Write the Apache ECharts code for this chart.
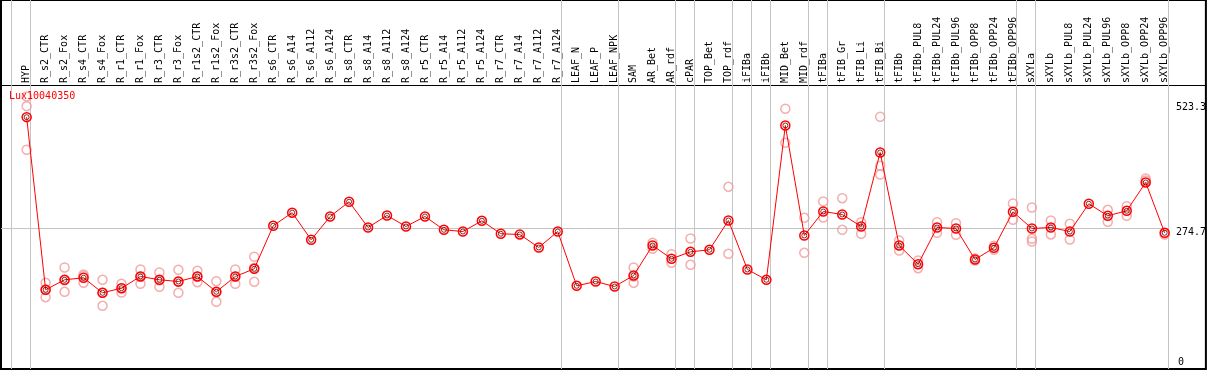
<!DOCTYPE html>
<html>
<head>
<meta charset="utf-8">
<script src="https://cdn.jsdelivr.net/npm/echarts@6/dist/echarts.min.js"></script>
<style>
html,body{margin:0;padding:0;background:#fff;}
#chart{width:1209px;height:370px;}
</style>
</head>
<body>
<div id="chart"></div>
<script>
const seriesName = 'Lux10040350';
const categories = ['HYP','R_s2_CTR','R_s2_Fox','R_s4_CTR','R_s4_Fox','R_r1_CTR','R_r1_Fox','R_r3_CTR','R_r3_Fox','R_r1s2_CTR','R_r1s2_Fox','R_r3s2_CTR','R_r3s2_Fox','R_s6_CTR','R_s6_A14','R_s6_A112','R_s6_A124','R_s8_CTR','R_s8_A14','R_s8_A112','R_s8_A124','R_r5_CTR','R_r5_A14','R_r5_A112','R_r5_A124','R_r7_CTR','R_r7_A14','R_r7_A112','R_r7_A124','LEAF_N','LEAF_P','LEAF_NPK','SAM','AR_Bet','AR_rdf','cPAR','TOP_Bet','TOP_rdf','iFIBa','iFIBb','MID_Bet','MID_rdf','tFIBa','tFIB_Gr','tFIB_Li','tFIB_Bi','tFIBb','tFIBb_PUL8','tFIBb_PUL24','tFIBb_PUL96','tFIBb_OPP8','tFIBb_OPP24','tFIBb_OPP96','sXYLa','sXYLb','sXYLb_PUL8','sXYLb_PUL24','sXYLb_PUL96','sXYLb_OPP8','sXYLb_OPP24','sXYLb_OPP96'];
const means = [496.3,152.7,172.6,176.6,146.7,155.9,179.2,172.6,169.2,179.2,148.7,179.2,194.5,280.1,306.2,252.2,298.6,327.9,276.7,300.6,278.7,298.6,272.1,268.7,290.0,264.2,262.8,236.9,268.7,160.6,169.2,159.2,181.1,240.9,214.4,228.3,232.3,290.6,193.1,172.6,479.7,260.8,308.5,302.6,278.7,426.0,240.9,203.6,276.7,274.7,213.0,236.3,307.9,274.7,276.7,268.7,323.9,300.0,309.9,366.3,266.1];
const replicates = [
  [537.5,518.2,431.4],[166.6,137.9,153.3],[197.1,148.7,171.8],[183.1,166.6,180.0],[172.6,120.8,146.7],
  [164.6,147.3,155.9],[193.1,164.6,179.2],[187.1,158.7,171.8],[192.5,146.7,168.6],[190.5,167.8,179.2],
  [169.8,128.8,147.9],[193.1,164.6,179.2],[218.4,168.6,196.5],[],[],
  [],[],[],[],[],
  [],[],[],[],[],
  [],[],[],[],[],
  [],[],[197.1,179.2,166.6],[246.2,234.3],[223.5,206.4],
  [254.8,202.4],[],[357.7,224.3],[],[],
  [513.0,445.3],[296.0,226.3],[328.4,296.6],[335.0,272.1],[287.2,264.2],
  [497.1,399.5,382.2],[250.8,230.9],[195.7,211.0],[287.2,266.1],[285.3,262.2],
  [215.0,211.0],[240.3,232.3],[324.5,292.0],[316.5,254.2,248.8],[290.6,262.8],
  [284.1,252.8],[],[311.9,288.0],[319.1,300.0],[374.2,370.3],
  [262.8]
];
const yTickLabels = [0, 274.7, 523.3];
const refLineValue = 274.7;
const groupEnds = [0,28,31,34,35,37,38,39,41,42,45,52,53,60];

const FONT = 'DejaVu Sans Mono';
const xMin = (1 - 26.7) / 19, xMax = (1208 - 26.7) / 19;
const yMin = -2.5 / 0.5024, yMax = 366.5 / 0.5024;

const meanData = means.map((v, i) => [i, v]);
const repData = [];
replicates.forEach((arr, i) => arr.forEach(v => repData.push([i, v])));

const breakPos = [-0.8].concat(groupEnds.map(i => i + 0.2));
const vLines = breakPos.map(x => [{coord: [x, yMin]}, {coord: [x, yMax]}]);
const hLine = [{coord: [xMin, refLineValue]}, {coord: [60.2, refLineValue]}];

const chart = echarts.init(document.getElementById('chart'), null, {renderer: 'canvas'});
chart.setOption({
  animation: false,
  backgroundColor: '#fff',
  title: {
    text: seriesName, left: 9, top: 91, padding: 0,
    textStyle: {color: '#ff0000', fontSize: 10, fontWeight: 'normal', fontFamily: FONT}
  },
  grid: {left: 1, right: 1, top: 0, bottom: 1, show: true, borderColor: '#000', borderWidth: 2, backgroundColor: 'transparent'},
  xAxis: {
    type: 'value', min: xMin, max: xMax, position: 'top', offset: -85,
    axisLine: {show: true, onZero: false, lineStyle: {color: '#000', width: 1}},
    axisTick: {show: false}, splitLine: {show: false},
    axisLabel: {
      customValues: categories.map((c, i) => i),
      formatter: v => categories[Math.round(v)] || '',
      rotate: -90, margin: 2, fontSize: 10, fontFamily: FONT, color: '#000', hideOverlap: false
    }
  },
  yAxis: [{
    type: 'value', min: yMin, max: yMax, position: 'right',
    axisLine: {show: false}, axisTick: {show: false}, splitLine: {show: false},
    axisLabel: {customValues: yTickLabels.filter(v => v !== 0), formatter: v => String(v), inside: true, align: 'left', margin: 30,
      verticalAlign: 'top', lineHeight: 8, fontSize: 10, fontFamily: FONT, color: '#000'}
  }, {
    type: 'value', min: yMin, max: yMax, position: 'right',
    axisLine: {show: false}, axisTick: {show: false}, splitLine: {show: false},
    axisLabel: {customValues: yTickLabels.filter(v => v === 0), formatter: v => String(v), inside: true, align: 'left', margin: 28,
      verticalAlign: 'bottom', lineHeight: 8, fontSize: 10, fontFamily: FONT, color: '#000'}
  }],
  series: [{
    type: 'scatter', name: 'reps', data: repData, z: 2, silent: true,
    symbol: 'circle', symbolSize: 9,
    itemStyle: {color: 'rgba(0,0,0,0)', borderColor: '#f09a9a', borderWidth: 1.5},
    markLine: {
      silent: true, symbol: 'none', animation: false, z: 1,
      label: {show: false},
      lineStyle: {color: '#c4c4c4', width: 1, type: 'solid'},
      emphasis: {disabled: true},
      data: vLines.concat([hLine])
    }
  }, {
    type: 'line', name: seriesName, data: meanData, z: 3, silent: true,
    showAllSymbol: true, symbol: 'circle', symbolSize: 9,
    lineStyle: {color: '#ff0000', width: 1},
    itemStyle: {color: 'rgba(0,0,0,0)', borderColor: '#ff0000', borderWidth: 1.5}
  }, {
    type: 'scatter', name: 'inner', data: meanData, z: 4, silent: true,
    symbol: 'circle', symbolSize: 5,
    itemStyle: {color: 'rgba(0,0,0,0)', borderColor: '#5a0000', borderWidth: 1}
  }]
});
</script>
</body>
</html>
